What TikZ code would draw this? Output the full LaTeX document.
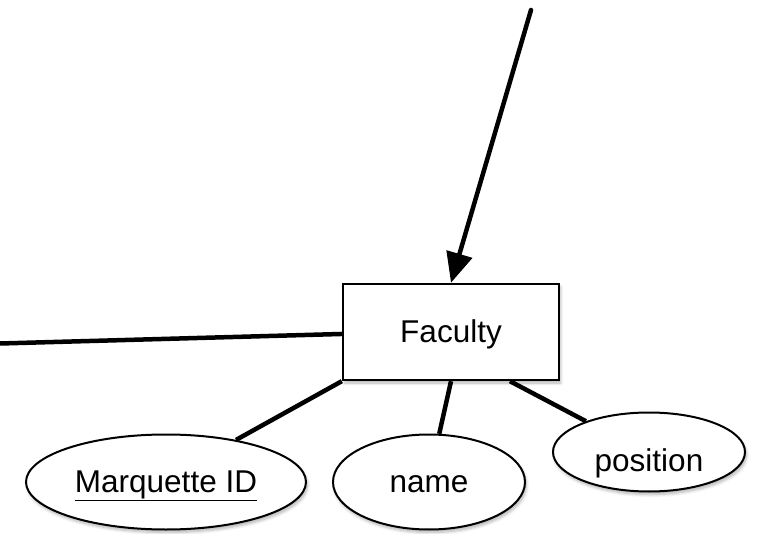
\documentclass[tikz,border=0pt]{standalone}
\usepackage{fontspec}
\setmainfont{Liberation Sans}
\usetikzlibrary{arrows.meta,shadows.blur,shapes.geometric,calc}
\begin{document}
\begin{tikzpicture}[x=1pt,y=-1pt,
  every node/.style={font=\fontsize{31.5}{36}\selectfont,text height=22pt,text depth=2pt},
  soft/.style={blur shadow={shadow xshift=1.5pt,shadow yshift=-3pt,shadow blur steps=6,shadow blur radius=3pt,shadow opacity=30}},
  entity/.style={draw,line width=2.4pt,fill=white,soft,minimum width=216pt,minimum height=96pt,inner sep=0pt},
  attr/.style={draw,ellipse,line width=2pt,fill=white,soft,inner sep=0pt},
  link/.style={line width=4.5pt},
]
\useasboundingbox (0,0) rectangle (760,534);
% the entity and its attributes
\node[attr,minimum width=280pt,minimum height=95pt] (mid) at (166,482) {\underline{Marquette ID}};
\node[attr,minimum width=192pt,minimum height=95pt] (nm) at (429,482) {name};
\node[attr,minimum width=192pt,minimum height=79pt,text height=40pt] (pos) at (649,452) {position};
\node[entity] (fac) at (451,332) {Faculty};

% incoming relationship links
\coordinate (top) at (531,10);
\coordinate (left) at (0,343.5);
\draw[link,line cap=round,-{Triangle[length=30pt,width=26pt]}] (top) -- (fac.north);
\draw[link] (left) -- ($(fac.north west)!0.52!(fac.south west)$);
% attribute links
\draw[link] (fac.south west) -- (mid.31);
\draw[link] (fac.south) -- (nm.78);
\draw[link] ($(fac.south west)!0.77!(fac.south east)$) -- (pos.154);
\end{tikzpicture}
\end{document}
